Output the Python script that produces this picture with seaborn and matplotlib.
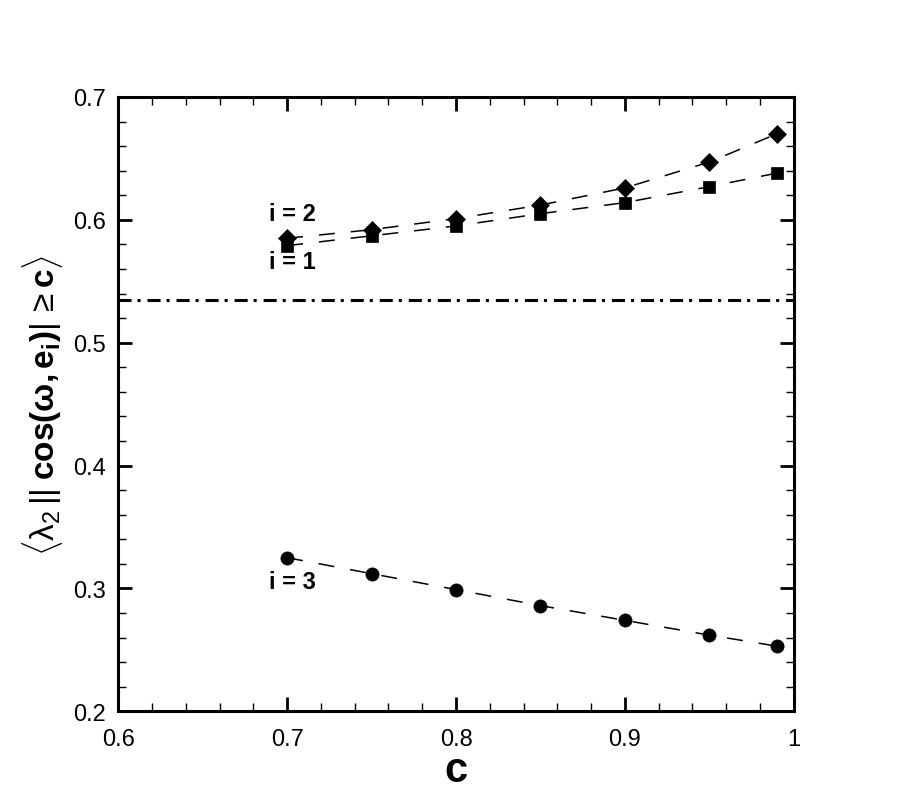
import matplotlib
matplotlib.use('Agg')
import matplotlib.pyplot as plt
import seaborn as sns
import pandas as pd
from matplotlib.ticker import MultipleLocator

# values
c_vals = [0.70, 0.75, 0.80, 0.85, 0.90, 0.95, 0.99]
i1_vals = [0.579, 0.587, 0.595, 0.605, 0.614, 0.627, 0.638]
i2_vals = [0.585, 0.592, 0.601, 0.612, 0.626, 0.647, 0.670]
i3_vals = [0.325, 0.312, 0.299, 0.286, 0.274, 0.262, 0.253]
ref_level = 0.535

sns.set_style('ticks')
plt.rcParams['font.family'] = ['Liberation Sans', 'DejaVu Sans']
plt.rcParams['mathtext.fontset'] = 'custom'
plt.rcParams['mathtext.rm'] = 'Liberation Sans'
plt.rcParams['mathtext.it'] = 'Liberation Sans:italic'
plt.rcParams['mathtext.bf'] = 'Liberation Sans:bold'
plt.rcParams['lines.scale_dashes'] = False
plt.rcParams['text.color'] = 'black'
plt.rcParams['axes.labelcolor'] = 'black'
plt.rcParams['xtick.color'] = 'black'
plt.rcParams['ytick.color'] = 'black'
plt.rcParams['axes.edgecolor'] = 'black'

df = pd.DataFrame({
    'c': c_vals * 3,
    'val': i1_vals + i2_vals + i3_vals,
    'series': ['i1'] * 7 + ['i2'] * 7 + ['i3'] * 7,
})

fig, ax = plt.subplots(figsize=(9.03, 8.03), dpi=100)
fig.subplots_adjust(left=0.131, right=0.879, top=0.878, bottom=0.113)

markers = {'i1': 's', 'i2': 'D', 'i3': 'o'}
sizes = {'i1': 8.5, 'i2': 9, 'i3': 9.5}
for name, grp in df.groupby('series'):
    sns.lineplot(data=grp, x='c', y='val', ax=ax, color='black', lw=1.1,
                 marker=markers[name], markersize=sizes[name],
                 markeredgecolor='black', markeredgewidth=0.5)

for line in ax.lines:
    line.set_linestyle((0, (11.5, 11.5)))

ax.axhline(ref_level, color='black', lw=2.2, linestyle=(0, (9.4, 4.3, 2.2, 5.0)))

ax.text(0.689, 0.600, 'i = 2', fontsize=17, fontweight='bold')
ax.text(0.689, 0.561, 'i = 1', fontsize=17, fontweight='bold')
ax.text(0.689, 0.300, 'i = 3', fontsize=17, fontweight='bold')

ax.set_xlim(0.6, 1.0)
ax.set_ylim(0.2, 0.7)
ax.xaxis.set_major_locator(MultipleLocator(0.1))
ax.xaxis.set_minor_locator(MultipleLocator(0.02))
ax.yaxis.set_major_locator(MultipleLocator(0.1))
ax.yaxis.set_minor_locator(MultipleLocator(0.02))
ax.xaxis.set_major_formatter(plt.FuncFormatter(lambda v, p: '1' if abs(v - 1) < 1e-6 else f'{v:.1f}'))
ax.tick_params(which='both', direction='in', top=True, right=True, labelsize=17)
ax.tick_params(which='major', length=10, width=2, pad=9)
ax.tick_params(axis='x', which='major', pad=12)
ax.tick_params(which='minor', length=6, width=1)
for s in ax.spines.values():
    s.set_linewidth(2.2)

ax.set_xlabel(r'$\mathbf{c}$', fontsize=30, labelpad=0)
ax.set_ylabel(r'$\langle\mathrm{\lambda}_2\,||\;\mathbf{cos(\omega,e_i)}|\,\geq\mathbf{c}\rangle$',
              fontsize=24, labelpad=6)

fig.savefig('out.png', dpi=100)
